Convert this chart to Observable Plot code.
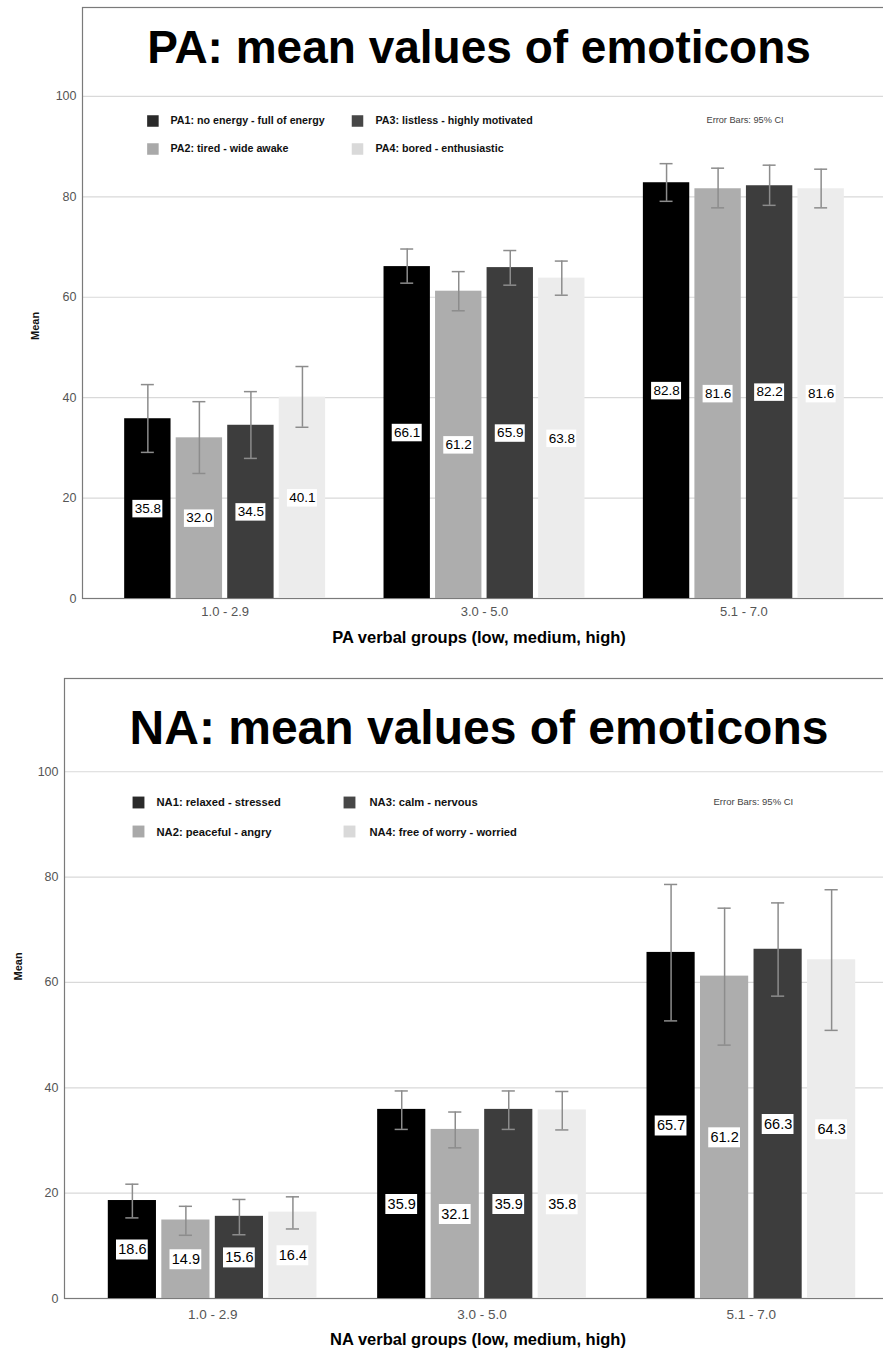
<!DOCTYPE html>
<html>
<head>
<meta charset="utf-8">
<script src="https://cdn.jsdelivr.net/npm/d3@7"></script>
<script src="https://cdn.jsdelivr.net/npm/@observablehq/plot@0.6"></script>
<style>
  body { margin: 0; background: #ffffff; }
  .panel { position: relative; width: 883px; overflow: hidden; background: #ffffff; }
  .panel svg { position: absolute; left: 0; top: 0; max-width: none; }
</style>
</head>
<body>
<div id="pa" class="panel" style="height:655px"></div>
<div id="na" class="panel" style="height:696px"></div>
<script>
// ---------- data ----------
const groups = ["1.0 - 2.9", "3.0 - 5.0", "5.1 - 7.0"];
const yTicks = [0, 20, 40, 60, 80, 100];

const paSeries = [
  "PA1: no energy - full of energy",
  "PA2: tired - wide awake",
  "PA3: listless - highly motivated",
  "PA4: bored - enthusiastic"
];
// rows: series, columns: groups
const paMean = [[35.8, 66.1, 82.8], [32.0, 61.2, 81.6], [34.5, 65.9, 82.2], [40.1, 63.8, 81.6]];
const paLo   = [[29.1, 62.8, 79.1], [24.9, 57.3, 77.8], [27.9, 62.4, 78.3], [34.1, 60.4, 77.8]];
const paHi   = [[42.6, 69.6, 86.6], [39.2, 65.1, 85.7], [41.2, 69.3, 86.3], [46.2, 67.2, 85.5]];

const naSeries = [
  "NA1: relaxed - stressed",
  "NA2: peaceful - angry",
  "NA3: calm - nervous",
  "NA4: free of worry - worried"
];
const naMean = [[18.6, 35.9, 65.7], [14.9, 32.1, 61.2], [15.6, 35.9, 66.3], [16.4, 35.8, 64.3]];
const naLo   = [[15.3, 32.1, 52.7], [12.0, 28.6, 48.1], [12.1, 32.1, 57.4], [13.2, 32.0, 50.9]];
const naHi   = [[21.7, 39.4, 78.6], [17.5, 35.4, 74.1], [18.8, 39.4, 75.1], [19.3, 39.3, 77.6]];

// ---------- style ----------
const barColors = ["#000000", "#adadad", "#3d3d3d", "#ececec"];
const swatchColors = ["#2a2a2a", "#a9a9a9", "#474747", "#d9d9d9"];
const FONT = "'Liberation Sans', Arial, Helvetica, sans-serif";
const YMAX = 117.7;

function rows(series, mean, lo, hi) {
  const out = [];
  series.forEach((s, i) => groups.forEach((g, j) =>
    out.push({group: g, series: s, mean: mean[i][j], lo: lo[i][j], hi: hi[i][j]})));
  return out;
}

function panel(el, cfg) {
  const L = cfg.layout;
  const common = {
    width: cfg.width, height: cfg.height,
    marginLeft: cfg.marginLeft, marginRight: 0,
    marginTop: cfg.marginTop, marginBottom: cfg.marginBottom
  };

  // legend marks
  const legend = [];
  cfg.series.forEach((s, i) => {
    const col = Math.floor(i / 2), row = i % 2;
    legend.push(Plot.dot([s], {
      frameAnchor: "top-left", dx: L.swX[col], dy: L.swY[row],
      symbol: "square", r: L.swR, fill: swatchColors[i], stroke: "none"
    }));
    legend.push(Plot.text([s], {
      frameAnchor: "top-left", dx: L.txX[col], dy: L.txY[row],
      textAnchor: "start", lineAnchor: "bottom",
      fontSize: L.legendSize, fontWeight: "bold", fill: "#111"
    }));
  });

  const bg = Plot.plot({
    ...common,
    style: {background: "#ffffff", fontFamily: FONT, fontSize: "12.5px", color: "#555", maxWidth: "none"},
    y: {domain: [0, YMAX], ticks: yTicks, tickSize: 0, tickPadding: 6, label: null},
    marks: [
      Plot.ruleY(yTicks, {stroke: "#d9d9d9", strokeWidth: 1.2}),
      Plot.frame({stroke: "#7a7a7a", strokeWidth: 1.2}),
      Plot.text([cfg.title], {
        frameAnchor: "top", dx: L.titleDx, dy: L.titleDy, lineAnchor: "bottom",
        fontSize: L.titleSize, fontWeight: "bold", fill: "#000"
      }),
      Plot.text(["Mean"], {
        frameAnchor: "left", dx: L.meanDx, dy: L.meanDy, rotate: -90,
        fontSize: 11, fontWeight: "bold", fill: "#111"
      }),
      Plot.text([cfg.xLabel], {
        frameAnchor: "bottom", dx: L.xLabDx, dy: L.xLabDy, lineAnchor: "bottom",
        fontSize: 16.5, fontWeight: "bold", fill: "#000"
      }),
      Plot.text(["Error Bars: 95% CI"], {
        frameAnchor: "top-left", dx: L.noteX, dy: L.noteY, textAnchor: "start", lineAnchor: "bottom",
        fontSize: L.noteSize, fill: "#444"
      }),
      ...legend
    ]
  });

  const data = cfg.data;
  const eb = {stroke: "#8c8c8c", strokeWidth: 1.5};
  const fg = Plot.plot({
    ...common,
    style: {background: "transparent", fontFamily: FONT, fontSize: L.fxSize + "px", color: "#555", maxWidth: "none"},
    fx: {domain: groups, paddingInner: 0.1, paddingOuter: 0.1, label: null, tickSize: 0, tickPadding: L.fxPad, axis: "bottom", round: false},
    x: {domain: cfg.series, paddingInner: 0.1, paddingOuter: 0.315, axis: null, round: false},
    y: {domain: [0, YMAX], axis: null},
    color: {domain: cfg.series, range: barColors},
    marks: [
      Plot.barY(data, {fx: "group", x: "series", y: "mean", fill: "series"}),
      Plot.ruleX(data, {fx: "group", x: "series", y1: "lo", y2: "hi", ...eb}),
      Plot.tickY(data, {fx: "group", x: "series", y: "lo", insetLeft: L.capInset, insetRight: L.capInset, ...eb}),
      Plot.tickY(data, {fx: "group", x: "series", y: "hi", insetLeft: L.capInset, insetRight: L.capInset, ...eb}),
      // white label boxes
      Plot.tickY(data, {
        fx: "group", x: "series", y: d => d.mean / 2,
        stroke: "#ffffff", strokeWidth: L.boxH, insetLeft: L.boxInset, insetRight: L.boxInset
      }),
      Plot.text(data, {
        fx: "group", x: "series", y: d => d.mean / 2,
        text: d => d3.format(".1f")(d.mean),
        fontSize: L.valSize, fill: "#000"
      })
    ]
  });

  el.appendChild(bg);
  el.appendChild(fg);
}

panel(document.getElementById("pa"), {
  width: 886, height: 655, marginLeft: 82, marginTop: 7, marginBottom: 57,
  title: "PA: mean values of emoticons",
  xLabel: "PA verbal groups (low, medium, high)",
  series: paSeries,
  data: rows(paSeries, paMean, paLo, paHi),
  layout: {
    titleDx: -5.5, titleDy: 55, titleSize: 46,
    meanDx: -47, meanDy: 37,
    xLabDx: -5.5, xLabDy: 44,
    swX: [70.4, 275], swY: [113.5, 141.5], swR: 6.5,
    txX: [88, 293], txY: [116, 144], legendSize: 10.7,
    noteX: 624, noteY: 115, noteSize: 9.2,
    fxSize: 13, fxPad: 8, capInset: 16.7, valSize: 13.5,
    boxH: 17.5, boxInset: 8.2
  }
});

panel(document.getElementById("na"), {
  width: 899, height: 696, marginLeft: 64, marginTop: 23, marginBottom: 53,
  title: "NA: mean values of emoticons",
  xLabel: "NA verbal groups (low, medium, high)",
  series: naSeries,
  data: rows(naSeries, naMean, naLo, naHi),
  layout: {
    titleDx: -3, titleDy: 65.3, titleSize: 48,
    meanDx: -46, meanDy: -8,
    xLabDx: -4, xLabDy: 46,
    swX: [74, 285], swY: [124, 153], swR: 6.7,
    txX: [92, 305], txY: [127.7, 157], legendSize: 11.2,
    noteX: 649, noteY: 126, noteSize: 9.5,
    fxSize: 13.5, fxPad: 10.5, capInset: 17.5, valSize: 14.5,
    boxH: 20, boxInset: 8.2
  }
});
</script>
</body>
</html>
